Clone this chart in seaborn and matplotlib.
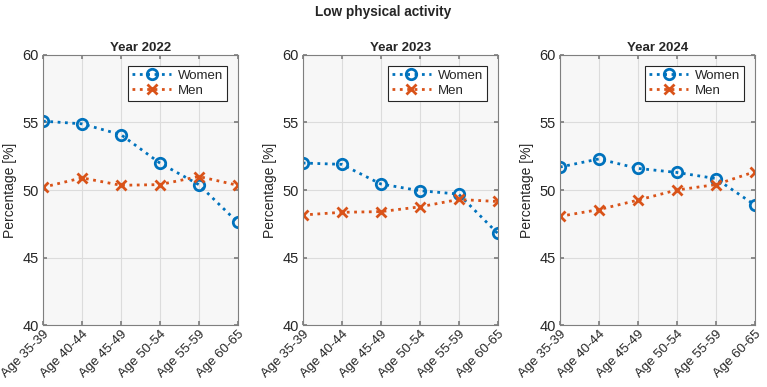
import matplotlib
matplotlib.use("Agg")
import matplotlib.pyplot as plt
import seaborn as sns
import pandas as pd

ages = ["Age 35-39", "Age 40-44", "Age 45-49", "Age 50-54", "Age 55-59", "Age 60-65"]
years = ["Year 2022", "Year 2023", "Year 2024"]
women_2022 = [55.1, 54.9, 54.1, 52.0, 50.4, 47.6]
men_2022 = [50.2, 50.9, 50.35, 50.4, 51.0, 50.35]
women_2023 = [52.0, 51.9, 50.45, 49.95, 49.7, 46.8]
men_2023 = [48.15, 48.35, 48.4, 48.75, 49.3, 49.15]
women_2024 = [51.7, 52.3, 51.6, 51.3, 50.85, 48.9]
men_2024 = [48.05, 48.55, 49.25, 50.0, 50.4, 51.35]
yticks = [40, 45, 50, 55, 60]

sns.set_theme(style="ticks")
plt.rcParams['font.family'] = ['Liberation Sans', 'DejaVu Sans']

blue = "#0072BD"
orange = "#D95319"

fig = plt.figure(figsize=(7.67, 3.87), dpi=100)
lefts = [0.056, 0.3947, 0.730]
data = [(women_2022, men_2022), (women_2023, men_2023), (women_2024, men_2024)]

for i, (w, m) in enumerate(data):
    ax = fig.add_axes([lefts[i], 0.160, 0.254, 0.698])
    ax.set_facecolor("#F7F7F7")
    sns.lineplot(x=ages, y=w, ax=ax, color=blue, linestyle=":", linewidth=2,
                 marker="o", markersize=7.5, markeredgewidth=2, markerfacecolor="none",
                 markeredgecolor=blue, label="Women", sort=False)
    sns.lineplot(x=ages, y=m, ax=ax, color=orange, linestyle=":", linewidth=2,
                 marker="x", markersize=6.5, markeredgewidth=2,
                 markeredgecolor=orange, label="Men", sort=False)
    ax.set_ylim(40, 60)
    ax.set_xlim(0, len(ages) - 1)
    ax.set_yticks(yticks)
    ax.set_yticklabels([str(t) for t in yticks], fontsize=10.5, color="#262626")
    ax.set_xticks(range(len(ages)))
    ax.set_xticklabels(ages, rotation=45, ha="right", va="top", rotation_mode="anchor",
                       fontsize=9.5, color="#262626")
    ax.grid(True, color="#DCDCDC", linewidth=0.8)
    ax.set_axisbelow(True)
    for s in ax.spines.values():
        s.set_color("#7F7F7F")
        s.set_linewidth(0.8)
    ax.tick_params(direction="in", length=3, color="#7F7F7F", top=True, right=True)
    ax.tick_params(axis="x", pad=2)
    ax.tick_params(axis="y", pad=3)
    ax.set_ylabel("Percentage [%]", fontsize=10, color="#262626")
    ax.set_title(years[i], fontsize=9.5, fontweight="bold", pad=3)
    leg = ax.legend(loc="upper right", fontsize=9.5, frameon=True, fancybox=False,
                    edgecolor="#262626", framealpha=1, borderaxespad=0.8,
                    handlelength=3, handletextpad=0.5, borderpad=0.3, labelspacing=0.2)
    leg.get_frame().set_linewidth(0.8)

fig.suptitle("Low physical activity", fontsize=9.8, fontweight="bold", y=0.987)
fig.savefig("out.png", dpi=100)
